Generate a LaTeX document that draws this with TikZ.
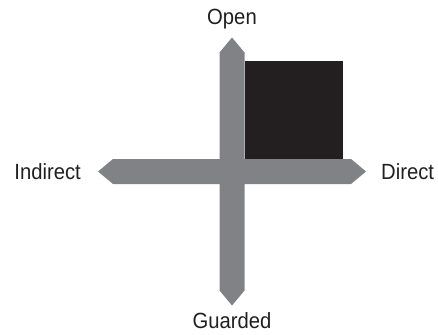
\documentclass[tikz,border=0pt]{standalone}
\usepackage{fontspec}
\setmainfont{Liberation Sans}[FakeStretch=0.92]
\usepackage{tikz}
\usetikzlibrary{positioning,calc}
\definecolor{axisgray}{HTML}{808285}
\definecolor{quadblack}{HTML}{231F20}

\begin{document}
\begin{tikzpicture}[
  x=1pt, y=-1pt,
  bar/.style={fill=axisgray, draw=none},
  lbl/.style={font=\fontsize{22}{26}\selectfont, text=quadblack, inner sep=0pt},
]
\useasboundingbox (0,0) rectangle (438,334);
\coordinate (c) at (232,171.5);
% tips of the two axes
\coordinate (top) at ($(c)+(0,-134)$);
\coordinate (bot) at ($(c)+(0,134)$);
\coordinate (lft) at ($(c)+(-134,0)$);
\coordinate (rgt) at ($(c)+(134,0)$);

% filled quadrant
\fill[quadblack] ($(c)+(12.5,-12.5)$) rectangle ($(c)+(111,-110.5)$);

% vertical axis
\fill[bar] (top) -- ($(top)+(12.5,15)$) -- ($(bot)+(12.5,-15)$) -- (bot)
  -- ($(bot)+(-12.5,-15)$) -- ($(top)+(-12.5,15)$) -- cycle;
% horizontal axis
\fill[bar] (lft) -- ($(lft)+(15,-12.5)$) -- ($(rgt)+(-15,-12.5)$) -- (rgt)
  -- ($(rgt)+(-15,12.5)$) -- ($(lft)+(15,12.5)$) -- cycle;

\node[lbl, above=8pt of top] (open) {Open};
\node[lbl, below=7pt of bot] (guarded) {Guarded};
\node[lbl, left=17pt of lft] (indirect) {Indirect};
\node[lbl, right=15pt of rgt] (direct) {Direct};
\end{tikzpicture}
\end{document}
